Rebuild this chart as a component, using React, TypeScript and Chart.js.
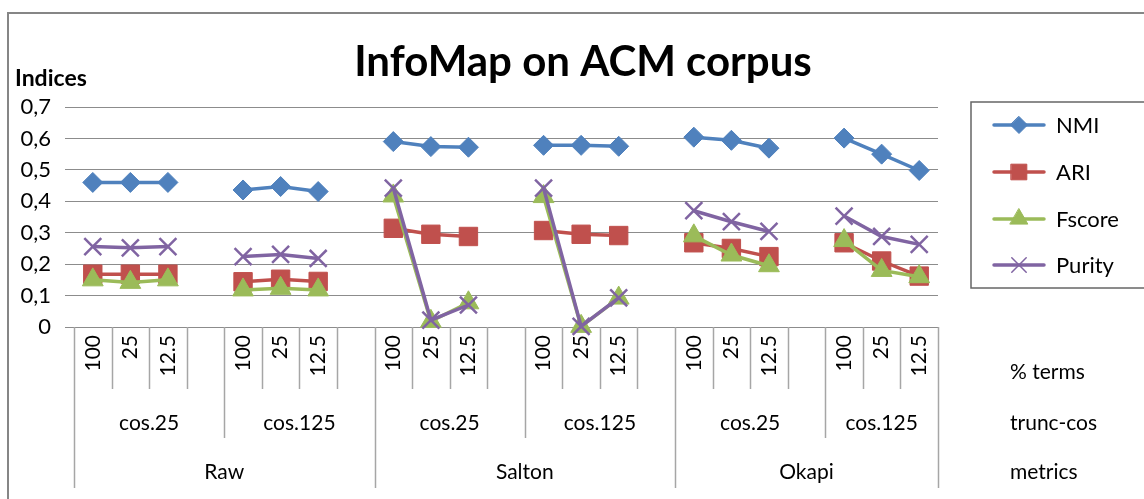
import React, { useEffect, useRef } from 'react';
import { Chart, registerables } from 'chart.js';

Chart.register(...registerables);

const FONT = 'Lato, "Open Sans", sans-serif';

// Category axis (3 levels): % terms within trunc-cos within metrics; '' = blank spacer slot
const categories = [
  '100', '25', '12.5', '', '100', '25', '12.5', '',
  '100', '25', '12.5', '', '100', '25', '12.5', '',
  '100', '25', '12.5', '', '100', '25', '12.5',
];
const truncCos = ['cos.25', 'cos.125', 'cos.25', 'cos.125', 'cos.25', 'cos.125'];
const metrics = ['Raw', 'Salton', 'Okapi'];
const levelNames = ['% terms', 'trunc-cos', 'metrics'];

const nmi = [
  0.46, 0.46, 0.46, null, 0.436, 0.447, 0.431, null,
  0.59, 0.574, 0.572, null, 0.578, 0.578, 0.575, null,
  0.604, 0.594, 0.569, null, 0.601, 0.55, 0.498,
];
const ari = [
  0.168, 0.168, 0.168, null, 0.144, 0.152, 0.145, null,
  0.314, 0.295, 0.288, null, 0.307, 0.295, 0.291, null,
  0.268, 0.25, 0.224, null, 0.268, 0.21, 0.162,
];
const fscore = [
  0.15, 0.142, 0.15, null, 0.118, 0.123, 0.118, null,
  0.417, 0.018, 0.077, null, 0.415, 0.002, 0.092, null,
  0.29, 0.229, 0.195, null, 0.275, 0.18, 0.16,
];
const purity = [
  0.256, 0.252, 0.256, null, 0.224, 0.231, 0.218, null,
  0.442, 0.022, 0.07, null, 0.442, 0.002, 0.093, null,
  0.37, 0.335, 0.304, null, 0.353, 0.288, 0.263,
];

const seriesNames = ['NMI', 'ARI', 'Fscore', 'Purity'];
const seriesColors = ['#4F81BD', '#C0504D', '#9BBB59', '#8064A2'];
const seriesStyles = ['rectRot', 'rect', 'triangle', 'crossRot'];
const seriesRadius = [10, 13, 12, 12];

const titleText = 'InfoMap on ACM corpus';
const yTitle = 'Indices';

function drawMarker(ctx: CanvasRenderingContext2D, style: string, x: number, y: number, r: number, color: string) {
  ctx.save();
  ctx.fillStyle = color;
  ctx.strokeStyle = color;
  ctx.lineWidth = 1;
  ctx.beginPath();
  if (style === 'rectRot') {
    ctx.moveTo(x, y - r); ctx.lineTo(x + r, y); ctx.lineTo(x, y + r); ctx.lineTo(x - r, y); ctx.closePath();
    ctx.fill(); ctx.stroke();
  } else if (style === 'rect') {
    const s = r * Math.SQRT1_2;
    ctx.rect(x - s, y - s, 2 * s, 2 * s); ctx.fill(); ctx.stroke();
  } else if (style === 'triangle') {
    for (let k = 0; k < 3; k++) {
      const a = k * (2 * Math.PI / 3);
      const px = x + Math.sin(a) * r, py = y - Math.cos(a) * r;
      if (k === 0) ctx.moveTo(px, py); else ctx.lineTo(px, py);
    }
    ctx.closePath(); ctx.fill(); ctx.stroke();
  } else {
    const s = r * Math.SQRT1_2;
    ctx.lineWidth = 1.5;
    ctx.moveTo(x - s, y - s); ctx.lineTo(x + s, y + s);
    ctx.moveTo(x + s, y - s); ctx.lineTo(x - s, y + s);
    ctx.stroke();
  }
  ctx.restore();
}

const decor = {
  id: 'decor',
  beforeDraw(chart: any) {
    const ctx = chart.ctx;
    ctx.save();
    ctx.fillStyle = '#ffffff';
    ctx.fillRect(0, 0, chart.width, chart.height);
    ctx.restore();
  },
  afterDraw(chart: any) {
    const ctx: CanvasRenderingContext2D = chart.ctx;
    const xs = chart.scales.x;
    const area = chart.chartArea;
    ctx.save();

    // outer frame
    ctx.strokeStyle = '#868686';
    ctx.lineWidth = 2;
    ctx.beginPath();
    ctx.moveTo(8, chart.height); ctx.lineTo(8, 13); ctx.lineTo(chart.width, 13);
    ctx.stroke();

    // title
    ctx.fillStyle = '#000';
    ctx.textAlign = 'center';
    ctx.textBaseline = 'middle';
    ctx.font = `bold 42px ${FONT}`;
    ctx.fillText(titleText, 583, 62);

    // y axis title
    ctx.textAlign = 'left';
    ctx.font = `bold 23px ${FONT}`;
    ctx.fillText(yTitle, 15, 79);

    // multi-level category separators
    const n = categories.length;
    const step = xs.getPixelForValue(1) - xs.getPixelForValue(0);
    const x0 = xs.getPixelForValue(0) - step / 2;
    const bottoms = [0, 389, 438, 488];
    ctx.strokeStyle = '#a6a6a6';
    ctx.lineWidth = 1.5;
    for (let i = 0; i <= n; i++) {
      const lvl = (i % 8 === 0 || i === n) ? 3 : (i % 4 === 0 ? 2 : 1);
      const bx = Math.round(x0 + i * step) + 0.5;
      ctx.beginPath();
      ctx.moveTo(bx, area.bottom);
      ctx.lineTo(bx, bottoms[lvl]);
      ctx.stroke();
    }

    ctx.fillStyle = '#000';
    ctx.font = `21px ${FONT}`;
    ctx.textAlign = 'center';
    truncCos.forEach((lab, g) => {
      const s = g * 4;
      const e = Math.min(g * 4 + 4, n);
      ctx.fillText(lab, x0 + ((s + e) / 2) * step, 423);
    });
    metrics.forEach((lab, m) => {
      const s = m * 8;
      const e = Math.min(m * 8 + 8, n);
      ctx.fillText(lab, x0 + ((s + e) / 2) * step, 472);
    });
    ctx.textAlign = 'left';
    const ly = [372, 423, 472];
    levelNames.forEach((lab, k) => ctx.fillText(lab, 1010, ly[k]));

    // legend
    ctx.strokeStyle = '#666666';
    ctx.lineWidth = 1.5;
    ctx.strokeRect(971, 102, 200, 186);
    const rows = [125, 172, 219, 265];
    seriesNames.forEach((name, k) => {
      const y = rows[k];
      ctx.strokeStyle = seriesColors[k];
      ctx.lineWidth = 3.5;
      ctx.lineCap = 'round';
      ctx.beginPath();
      ctx.moveTo(994, y); ctx.lineTo(1044, y);
      ctx.stroke();
      drawMarker(ctx, seriesStyles[k], 1019, y, seriesRadius[k] * 0.85, seriesColors[k]);
      ctx.fillStyle = '#000';
      ctx.font = `22px ${FONT}`;
      ctx.textAlign = 'left';
      ctx.fillText(name, 1056, y + 1);
    });
    ctx.restore();
  },
};

export default function App() {
  const ref = useRef<HTMLCanvasElement | null>(null);
  useEffect(() => {
    document.body.style.margin = '0';
    const seriesData = [nmi, ari, fscore, purity];
    const chart = new Chart(ref.current as HTMLCanvasElement, {
      type: 'line',
      data: {
        labels: categories,
        datasets: seriesNames.map((name, k) => ({
          label: name,
          data: seriesData[k],
          borderColor: seriesColors[k],
          backgroundColor: seriesColors[k],
          borderWidth: 3.5,
          pointStyle: seriesStyles[k] as any,
          pointRadius: seriesRadius[k],
          pointHoverRadius: seriesRadius[k],
          pointBackgroundColor: seriesColors[k],
          pointBorderColor: seriesColors[k],
          pointBorderWidth: k === 3 ? 2.5 : 1,
          tension: 0,
          spanGaps: false,
          clip: false as any,
          order: 3 - k,
        })),
      },
      options: {
        responsive: false,
        animation: false,
        devicePixelRatio: 1,
        layout: { padding: { left: 0, right: 206, top: 107, bottom: 0 } },
        plugins: {
          legend: { display: false },
          title: { display: false },
          tooltip: { enabled: false },
        },
        scales: {
          x: {
            type: 'category',
            offset: true,
            grid: { display: false, drawTicks: false },
            border: { display: false },
            ticks: {
              autoSkip: false,
              minRotation: 90,
              maxRotation: 90,
              padding: 8,
              color: '#000',
              font: { family: FONT, size: 21 },
            },
            afterFit: (scale: any) => { scale.height = 172; },
          },
          y: {
            min: 0,
            max: 0.7,
            grid: { color: '#8c8c8c', lineWidth: 1, tickLength: 9, drawTicks: true },
            border: { display: false },
            ticks: {
              stepSize: 0.1,
              padding: 14,
              color: '#000',
              font: { family: FONT, size: 22 },
              callback: (v: any) => (Number(v) === 0 ? '0' : Number(v).toFixed(1).replace('.', ',')),
            },
            afterFit: (scale: any) => { scale.width = 74; },
          },
        },
      },
      plugins: [decor],
    });
    return () => chart.destroy();
  }, []);
  return (
    <div style={{ width: 1144, height: 499 }}>
      <canvas ref={ref} width={1144} height={499} style={{ display: 'block' }} />
    </div>
  );
}
